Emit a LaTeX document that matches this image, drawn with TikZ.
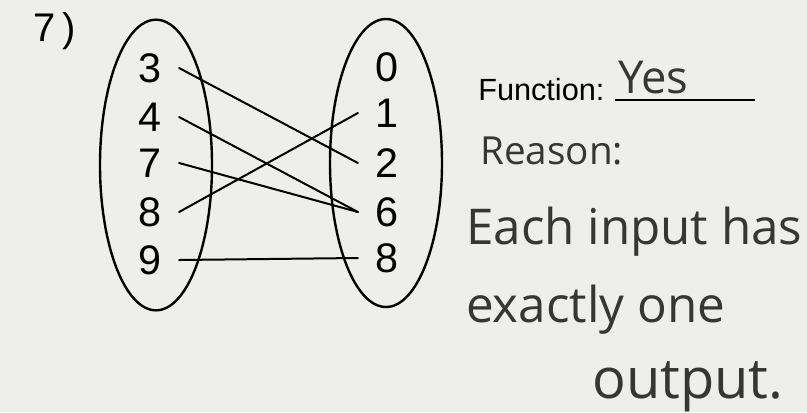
\documentclass[tikz,border=0pt]{standalone}
\usepackage{fontspec}
\setmainfont{Liberation Sans}
\newfontfamily\handfont{Open Sans}
\usepackage{xcolor}
\usepackage{tikz}
\usetikzlibrary{positioning, calc}
\definecolor{paper}{HTML}{EEEEEC}
\definecolor{pencil}{HTML}{363636}

\tikzset{
    num/.style={font=\fontsize{31}{31}\selectfont, inner xsep=13pt, inner ysep=0pt},
    hand/.style={text=pencil, anchor=base west, inner sep=0pt},
    link/.style={line width=1.5pt, line cap=round},
    setring/.style={line width=1.8pt},
}

\begin{document}
\begin{tikzpicture}[x=0.75pt, y=-0.75pt]
    \fill[paper] (0,0) rectangle (807,412);
    \useasboundingbox (0,0) rectangle (807,412);

    \node[font=\fontsize{30}{30}\selectfont] (qnum) at (55,31) {7\,)};

    \draw[setring] (156,165) ellipse [x radius=42pt, y radius=109pt];
    \draw[setring] (386,163) ellipse [x radius=42pt, y radius=108pt];

    \node[num] (in3) at (150,68) {3};
    \node[num] (in4) at (150,117) {4};
    \node[num] (in7) at (150,163) {7};
    \node[num] (in8) at (150,212) {8};
    \node[num] (in9) at (150,260) {9};

    \node[num] (out0) at (387,67) {0};
    \node[num] (out1) at (387,113) {1};
    \node[num] (out2) at (387,163) {2};
    \node[num] (out6) at (387,212) {6};
    \node[num] (out8) at (387,258) {8};

    \draw[link] (in3.east) -- (out2.west);
    \draw[link] (in4.east) -- (out6.west);
    \draw[link] (in7.east) -- (out6.west);
    \draw[link] (in8.east) -- (out1.west);
    \draw[link] (in9.east) -- (out8.west);

    \node[anchor=base west, inner sep=0pt, font=\fontsize{23}{23}\selectfont] (func) at (478,100) {Function:};
    \draw[line width=1.3pt] ([xshift=8pt]func.base east) -- ++(105pt,0);
    \node[hand, font=\handfont\fontsize{34}{34}\selectfont] (ans) at (618,93) {Yes};

    \node[hand, font=\handfont\fontsize{29}{29}\selectfont] (reason) at (480,164) {Reason:};
    \node[hand, font=\handfont\fontsize{37}{37}\selectfont] (line1) at (466,244) {Each input has};
    \node[hand, font=\handfont\fontsize{37}{37}\selectfont] (line2) at (466,322) {exactly one};
    \node[hand, font=\handfont\fontsize{42}{42}\selectfont] (line3) at (592,398) {output.};
\end{tikzpicture}
\end{document}
